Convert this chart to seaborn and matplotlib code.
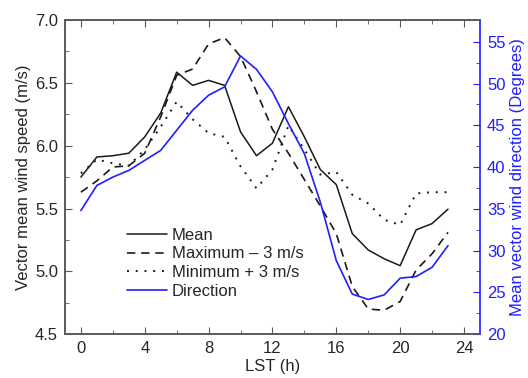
import matplotlib
matplotlib.use("Agg")
import matplotlib.pyplot as plt
import seaborn as sns

hours = list(range(24))
mean_speed = [5.75, 5.91, 5.92, 5.94, 6.07, 6.26, 6.585, 6.48, 6.52, 6.48, 6.11, 5.92,
              6.02, 6.31, 6.07, 5.81, 5.69, 5.30, 5.17, 5.10, 5.045, 5.33, 5.38, 5.495]
max_minus3 = [5.63, 5.72, 5.83, 5.84, 5.94, 6.23, 6.56, 6.61, 6.81, 6.86, 6.71, 6.43,
              6.13, 5.94, 5.73, 5.52, 5.30, 4.88, 4.70, 4.69, 4.76, 5.01, 5.14, 5.31]
min_plus3 = [5.78, 5.89, 5.86, 5.84, 5.97, 6.15, 6.35, 6.21, 6.10, 6.07, 5.835, 5.66,
             5.81, 6.16, 5.97, 5.77, 5.79, 5.61, 5.54, 5.41, 5.37, 5.62, 5.63, 5.63]
direction = [34.8, 37.8, 38.8, 39.6, 40.8, 42.0, 44.4, 46.8, 48.6, 49.6, 53.3, 51.7,
             49.0, 45.2, 41.6, 35.8, 28.8, 24.8, 24.15, 24.7, 26.7, 26.9, 28.0, 30.6]

sns.set_style("ticks")
plt.rcParams["font.family"] = ["Liberation Sans", "DejaVu Sans"]
plt.rcParams["font.size"] = 12

blue = "#1f1fff"
grey = "#5a5a5a"

fig = plt.figure(figsize=(5.28, 3.78), dpi=100)
ax = fig.add_axes([0.123, 0.116, 0.786, 0.831])
ax2 = ax.twinx()

sns.lineplot(x=hours, y=mean_speed, ax=ax, color="#1a1a1a", lw=1.1, label="Mean")
sns.lineplot(x=hours, y=max_minus3, ax=ax, color="#1a1a1a", lw=1.2,
             linestyle=(0, (5, 3.5)), label="Maximum \u2013 3 m/s")
sns.lineplot(x=hours, y=min_plus3, ax=ax, color="#1a1a1a", lw=1.4,
             linestyle=(0, (1, 3.5)), label="Minimum + 3 m/s")
sns.lineplot(x=hours, y=direction, ax=ax2, color=blue, lw=1.2, label="Direction")

ax.set_xlim(-1, 25)
ax.set_ylim(4.5, 7.0)
ax2.set_ylim(20, 57.6)
ax.set_xticks(range(0, 25, 4))
ax.set_xticks(range(0, 25, 2), minor=True)
ax.set_yticks([4.5, 5.0, 5.5, 6.0, 6.5, 7.0])
ax.set_yticks([4.5 + 0.25 * i for i in range(11)], minor=True)
ax2.set_yticks(range(20, 56, 5))
ax2.set_yticks([20 + 2.5 * i for i in range(15)], minor=True)

ax.set_xlabel("LST (h)", fontsize=12, labelpad=2)
ax.set_ylabel("Vector mean wind speed (m/s)", fontsize=12, labelpad=3)
ax2.set_ylabel("Mean vector wind direction (Degrees)", fontsize=12, color=blue,
               labelpad=3)

ax.tick_params(which="both", direction="in", top=True, right=False,
               color=grey, labelsize=12, pad=5)
ax.tick_params(which="major", length=5)
ax.tick_params(which="minor", length=3)
ax2.tick_params(which="both", direction="in", colors=blue, labelsize=12, pad=5)
ax2.tick_params(which="major", length=5)
ax2.tick_params(which="minor", length=3)

for side in ["left", "bottom", "top"]:
    ax.spines[side].set_color(grey)
    ax2.spines[side].set_color(grey)
ax2.spines["right"].set_color(blue)
ax.spines["right"].set_visible(False)
for a in (ax, ax2):
    for s in a.spines.values():
        s.set_linewidth(1.2)

h1, l1 = ax.get_legend_handles_labels()
h2, l2 = ax2.get_legend_handles_labels()
ax2.get_legend().remove()
ax.get_legend().remove()
ax.legend(h1 + h2, l1 + l2, loc="upper left", bbox_to_anchor=(0.133, 0.36),
          frameon=False, handlelength=2.4, handletextpad=0.3, labelspacing=0.22,
          fontsize=12, borderaxespad=0)

fig.savefig("out.png", dpi=100)
